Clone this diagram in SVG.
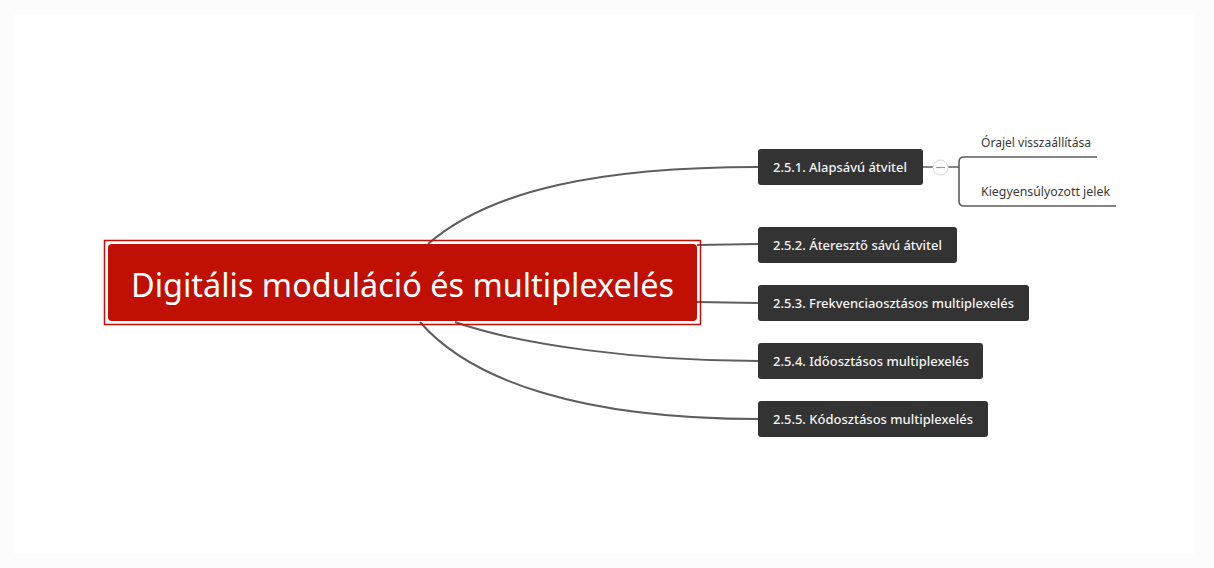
<svg xmlns="http://www.w3.org/2000/svg" width="1214" height="568" viewBox="0 0 1214 568">
  <style>
    .conn { fill: none; stroke: #5e5e5e; stroke-width: 2; }
    .sub { fill: none; stroke: #5e5e5e; stroke-width: 1.6; }
    .topic rect { fill: #333333; }
    .topic text { font-family: "Segoe UI", "Noto Sans", "Open Sans", sans-serif; font-size: 13px; font-weight: 500; fill: #f4f4f4; }
    .leaf text { font-family: "Segoe UI", "Noto Sans", "Open Sans", sans-serif; font-size: 12px; fill: #3a3a3a; }
    .central text { font-family: "Segoe UI", "Noto Sans", "Open Sans", sans-serif; font-size: 32px; fill: #ffffff; }
  </style>
  <rect x="0" y="0" width="1214" height="568" fill="#fcfcfc"/>
  <rect x="14" y="14" width="1180" height="540" fill="#ffffff"/>

  <g id="connectors">
    <path class="conn" d="M 428 244 C 490 190, 600 167, 758 167"/>
    <path class="conn" d="M 697 245 L 758 244"/>
    <path class="conn" d="M 697 302 L 758 303"/>
    <path class="conn" d="M 455 322 C 520 345, 640 361, 758 361"/>
    <path class="conn" d="M 420 322 C 470 380, 580 419, 758 419"/>
    <path class="sub" d="M 923 167 L 933 167 M 948 167 L 959 167"/>
    <path class="sub" d="M 1097 157 L 964 157 Q 959 157 959 162 L 959 201 Q 959 206 964 206 L 1116 206"/>
  </g>

  <g id="collapse-toggle">
    <circle cx="940.5" cy="167.5" r="7.5" fill="#ffffff" stroke="#d6d6d6" stroke-width="1"/>
    <line x1="936" y1="167.5" x2="945" y2="167.5" stroke="#9a9a9a" stroke-width="1.2"/>
  </g>

  <g id="central" class="central">
    <rect x="104.5" y="240.5" width="596" height="84" fill="none" stroke="#c00f03" stroke-width="1.5"/>
    <rect x="108" y="244" width="589" height="77" rx="4" fill="#c00f03"/>
    <text x="402.5" y="297" text-anchor="middle" textLength="543" lengthAdjust="spacingAndGlyphs">Digitális moduláció és multiplexelés</text>
  </g>

  <g id="topic-251" class="topic">
    <rect x="758" y="149" width="165" height="36" rx="3"/>
    <text x="773" y="172" textLength="134" lengthAdjust="spacingAndGlyphs">2.5.1. Alapsávú átvitel</text>
  </g>
  <g id="topic-252" class="topic">
    <rect x="758" y="227" width="199" height="36" rx="3"/>
    <text x="773" y="250" textLength="169" lengthAdjust="spacingAndGlyphs">2.5.2. Áteresztő sávú átvitel</text>
  </g>
  <g id="topic-253" class="topic">
    <rect x="758" y="285" width="271" height="36" rx="3"/>
    <text x="773" y="308" textLength="241" lengthAdjust="spacingAndGlyphs">2.5.3. Frekvenciaosztásos multiplexelés</text>
  </g>
  <g id="topic-254" class="topic">
    <rect x="758" y="343" width="225" height="36" rx="3"/>
    <text x="773" y="366" textLength="196" lengthAdjust="spacingAndGlyphs">2.5.4. Időosztásos multiplexelés</text>
  </g>
  <g id="topic-255" class="topic">
    <rect x="758" y="401" width="230" height="36" rx="3"/>
    <text x="773" y="424" textLength="200" lengthAdjust="spacingAndGlyphs">2.5.5. Kódosztásos multiplexelés</text>
  </g>

  <g id="leaf-orajel" class="leaf">
    <text x="981" y="147" textLength="110" lengthAdjust="spacingAndGlyphs">Órajel visszaállítása</text>
  </g>
  <g id="leaf-kiegyensulyozott" class="leaf">
    <text x="981" y="196" textLength="129" lengthAdjust="spacingAndGlyphs">Kiegyensúlyozott jelek</text>
  </g>
</svg>
